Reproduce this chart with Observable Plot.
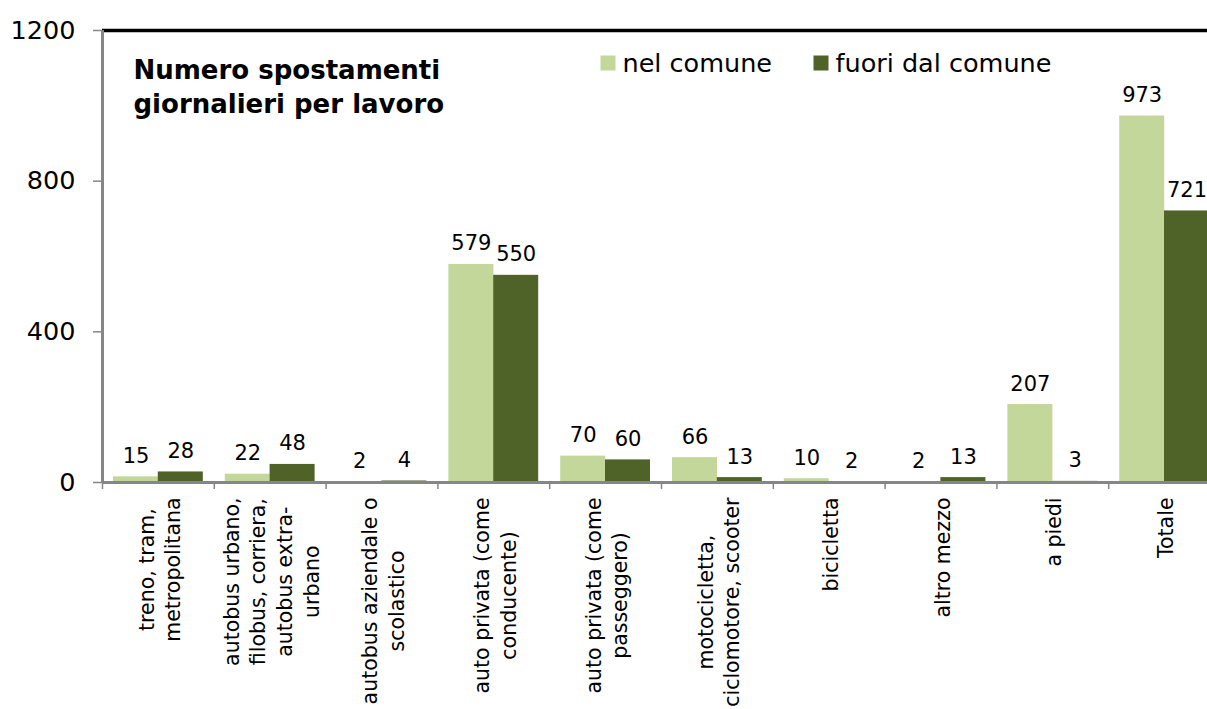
<!DOCTYPE html>
<html><head><meta charset="utf-8">
<script src="https://cdn.jsdelivr.net/npm/d3@7"></script>
<script src="https://cdn.jsdelivr.net/npm/@observablehq/plot@0.6"></script>
<style>
html,body{margin:0;padding:0;overflow:hidden;background:#fff;}
#chart svg{max-width:none;display:block;}
</style></head><body><div id="chart"></div>
<script>
const categories = [
  "treno, tram,\nmetropolitana",
  "autobus urbano,\nfilobus, corriera,\nautobus extra-\nurbano",
  "autobus aziendale o\nscolastico",
  "auto privata (come\nconducente)",
  "auto privata (come\npasseggero)",
  "motocicletta,\nciclomotore, scooter",
  "bicicletta",
  "altro mezzo",
  "a piedi",
  "Totale"
];
const nelComune = [15, 22, 2, 579, 70, 66, 10, 2, 207, 973];
const fuoriComune = [28, 48, 4, 550, 60, 13, 2, 13, 3, 721];
const yTicks = [0, 400, 800, 1200];
const seriesNames = ["nel comune", "fuori dal comune"];
const colors = ["#c4d79b", "#4f6228"];
const title = "Numero spostamenti\ngiornalieri per lavoro";

const FONT = "DejaVu Sans";
const W = 1220, H = 740, mL = 102, mR = 0, mT = 30, mB = 258;
const step = (W - mL - mR) / categories.length;
const barW = 45, outer = 11;
const inner = step - outer - barW;
const gray = "#868686";

const nelData = categories.map((c, i) => ({cat: c, v: nelComune[i]}));
const fuoriData = categories.map((c, i) => ({cat: c, v: fuoriComune[i]}));

// measure label widths to centre multi-line rotated labels like the original
const ctx = document.createElement("canvas").getContext("2d");
const LABEL_SIZE = 20.5;
ctx.font = `${LABEL_SIZE}px '${FONT}'`;
const labelMarks = categories.map(c => {
  const maxW = Math.max(...c.split("\n").map(s => ctx.measureText(s).width));
  return Plot.text([c], {
    x: d => d, y: () => 0, text: d => d, rotate: -90,
    textAnchor: "middle", lineAnchor: "middle", lineHeight: 1.3,
    fontSize: LABEL_SIZE, fontFamily: FONT, fill: "black",
    dy: 15 + maxW / 2, dx: 0
  });
});

const chart = Plot.plot({
  width: W, height: H,
  marginLeft: mL, marginRight: mR, marginTop: mT, marginBottom: mB,
  style: {fontFamily: FONT, background: "white"},
  x: {domain: categories, padding: 0, round: false, axis: null},
  y: {domain: [0, 1200], axis: null},
  marks: [
    Plot.barY(nelData, {x: "cat", y: "v", fill: colors[0], insetLeft: outer, insetRight: inner}),
    Plot.barY(fuoriData, {x: "cat", y: "v", fill: colors[1], insetLeft: inner, insetRight: outer}),
    Plot.ruleY([0], {stroke: gray, strokeWidth: 3}),
    Plot.ruleY([1200], {stroke: "black", strokeWidth: 3.5}),
    Plot.ruleX([categories[0]], {x: d => d, dx: -step / 2, y1: () => 0, y2: () => 1200, stroke: gray, strokeWidth: 3}),
    Plot.axisX({tickSize: 7, tickFormat: () => "", label: null, dx: -step / 2, stroke: gray, strokeWidth: 1.5}),
    Plot.axisY({ticks: yTicks, tickSize: 9, tickPadding: 18, tickFormat: d => String(d), label: null,
      fontSize: 25.5, fontFamily: FONT, stroke: gray, strokeWidth: 1.5, fill: "black"}),
    Plot.text(nelData, {x: "cat", y: "v", text: d => String(d.v), dx: -(step / 2 - outer - barW / 2),
      dy: -14, lineAnchor: "bottom", fontSize: 21, fontFamily: FONT, fill: "black"}),
    Plot.text(fuoriData, {x: "cat", y: "v", text: d => String(d.v), dx: (step / 2 - outer - barW / 2),
      dy: -14, lineAnchor: "bottom", fontSize: 21, fontFamily: FONT, fill: "black"}),
    ...labelMarks,
    Plot.text([title], {frameAnchor: "top-left", text: d => d, dx: 31, dy: 24, lineAnchor: "top",
      textAnchor: "start", lineHeight: 1.31, fontSize: 26, fontWeight: "bold", fontFamily: FONT, fill: "black"}),
    Plot.dot([seriesNames[0]], {frameAnchor: "top-left", dx: 505.5, dy: 32.5, symbol: "square",
      r: 15 / Math.sqrt(Math.PI), fill: colors[0], stroke: "none"}),
    Plot.text([seriesNames[0]], {frameAnchor: "top-left", text: d => d, dx: 520, dy: 33, lineAnchor: "middle",
      textAnchor: "start", fontSize: 25.5, fontFamily: FONT, fill: "black"}),
    Plot.dot([seriesNames[1]], {frameAnchor: "top-left", dx: 718.5, dy: 32.5, symbol: "square",
      r: 15 / Math.sqrt(Math.PI), fill: colors[1], stroke: "none"}),
    Plot.text([seriesNames[1]], {frameAnchor: "top-left", text: d => d, dx: 733, dy: 33, lineAnchor: "middle",
      textAnchor: "start", fontSize: 25.5, fontFamily: FONT, fill: "black"})
  ]
});
document.getElementById("chart").appendChild(chart);
</script></body></html>
